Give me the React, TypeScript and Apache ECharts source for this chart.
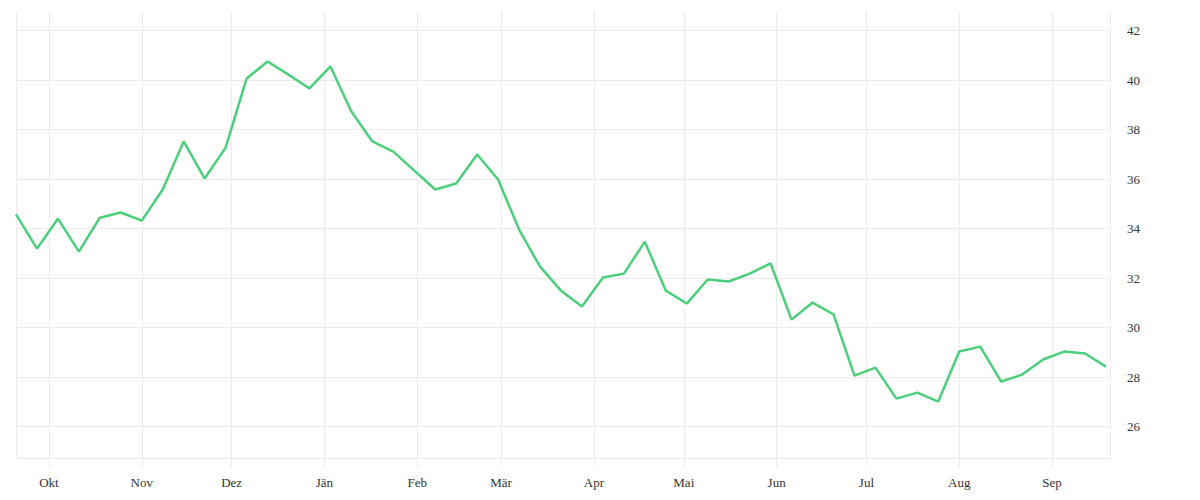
import { useEffect, useRef } from "react";
import * as echarts from "echarts";

// weekly observations
const dates = [
  "2018-09-20", "2018-09-27", "2018-10-04", "2018-10-11", "2018-10-18", "2018-10-25",
  "2018-11-01", "2018-11-08", "2018-11-15", "2018-11-22", "2018-11-29",
  "2018-12-06", "2018-12-13", "2018-12-20", "2018-12-27",
  "2019-01-03", "2019-01-10", "2019-01-17", "2019-01-24", "2019-01-31",
  "2019-02-07", "2019-02-14", "2019-02-21", "2019-02-28",
  "2019-03-07", "2019-03-14", "2019-03-21", "2019-03-28",
  "2019-04-04", "2019-04-11", "2019-04-18", "2019-04-25",
  "2019-05-02", "2019-05-09", "2019-05-16", "2019-05-23", "2019-05-30",
  "2019-06-06", "2019-06-13", "2019-06-20", "2019-06-27",
  "2019-07-04", "2019-07-11", "2019-07-18", "2019-07-25",
  "2019-08-01", "2019-08-08", "2019-08-15", "2019-08-22", "2019-08-29",
  "2019-09-05", "2019-09-12", "2019-09-19",
];

const values = [
  34.57, 33.19, 34.4, 33.07, 34.44, 34.65,
  34.32, 35.58, 37.52, 36.02, 37.27,
  40.06, 40.75, 40.22, 39.66,
  40.55, 38.73, 37.52, 37.11, 36.34,
  35.58, 35.82, 36.99, 35.98,
  33.96, 32.46, 31.49, 30.85,
  32.02, 32.18, 33.47, 31.49,
  30.97, 31.94, 31.86, 32.18, 32.59,
  30.32, 31.01, 30.53, 28.06,
  28.38, 27.13, 27.37, 27.01,
  29.03, 29.23, 27.82, 28.1, 28.71,
  29.03, 28.95, 28.42,
];

// horizontal grid lines
const yGridValues = [26, 28, 30, 32, 34, 36, 38, 40, 42];

const monthNames = ["Jän", "Feb", "Mär", "Apr", "Mai", "Jun", "Jul", "Aug", "Sep", "Okt", "Nov", "Dez"];

const gridColor = "#ececec";
const labelFont = "'Liberation Serif', serif";

export default function App() {
  const chartRef = useRef<HTMLDivElement>(null);

  useEffect(() => {
    if (!chartRef.current) return;
    const chart = echarts.init(chartRef.current, undefined, { renderer: "svg" });

    const seriesData = dates.map((d, i) => [d, values[i]]);

    chart.setOption({
      animation: false,
      backgroundColor: "#ffffff",
      grid: { left: 16, right: 90, top: 12, bottom: 42, containLabel: false },
      xAxis: {
        type: "time",
        min: dates[0],
        max: "2019-09-20 08:00",
        splitNumber: 12,
        minInterval: 28 * 24 * 3600 * 1000,
        axisLine: { show: true, lineStyle: { color: gridColor, width: 1 } },
        axisTick: { show: true, inside: false, length: 9, lineStyle: { color: gridColor, width: 1 } },
        splitLine: { show: true, lineStyle: { color: gridColor, width: 1 } },
        axisLabel: {
          margin: 18,
          color: "#333",
          fontSize: 13,
          fontFamily: labelFont,
          hideOverlap: false,
          formatter: (v: number) => monthNames[new Date(v).getMonth()],
        },
      },
      yAxis: {
        type: "value",
        position: "right",
        min: 24.73,
        max: 42.75,
        splitNumber: 9,
        axisLine: { show: true, lineStyle: { color: gridColor, width: 1 } },
        axisTick: { show: false },
        splitLine: { show: false },
        axisLabel: {
          margin: 17,
          color: "#333",
          fontSize: 13,
          fontFamily: labelFont,
          showMinLabel: false,
          showMaxLabel: false,
        },
      },
      series: [
        {
          type: "line",
          data: seriesData,
          showSymbol: false,
          symbol: "none",
          lineStyle: { color: "#4ccf7b", width: 2.5 },
          itemStyle: { color: "#4ccf7b" },
          z: 3,
          markLine: {
            silent: true,
            symbol: "none",
            z: 1,
            label: { show: false },
            lineStyle: { color: gridColor, width: 1, type: "solid" },
            emphasis: { disabled: true },
            data: yGridValues.map((v) => ({ yAxis: v })),
          },
        },
      ],
    });

    return () => {
      chart.dispose();
    };
  }, []);

  return (
    <div
      ref={chartRef}
      style={{ position: "absolute", left: 0, top: 0, width: 1200, height: 500 }}
    />
  );
}
